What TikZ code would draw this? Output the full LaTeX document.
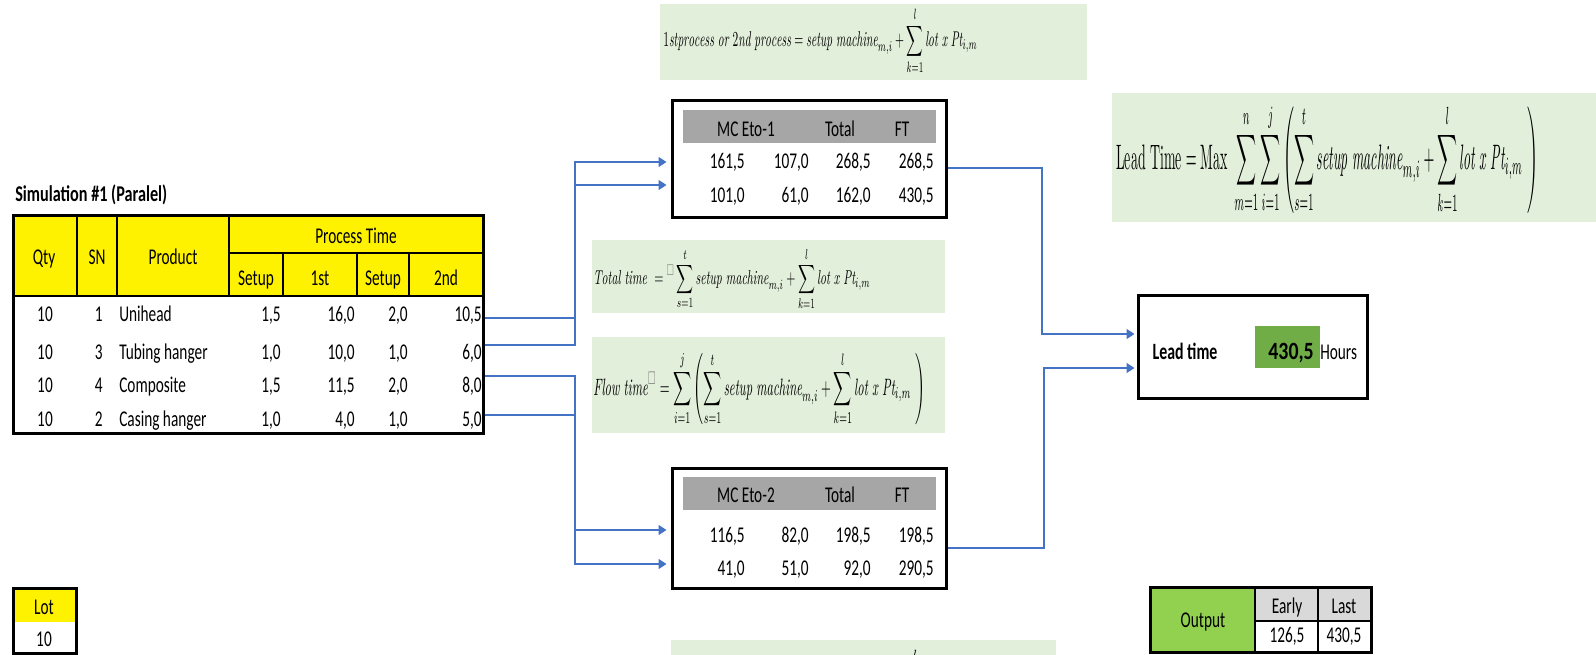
\documentclass[tikz,border=0pt]{standalone}
\usepackage{amsmath,amssymb}
\usepackage{fontspec}
\usepackage{graphicx}
\usetikzlibrary{arrows.meta,fit}
\newfontfamily\cf{Carlito}[FakeStretch=0.68]
\newfontfamily\cft{Carlito}[FakeStretch=0.72]
\newfontfamily\cfw{Carlito}[FakeStretch=0.8]
\newcommand\tf{\cf\fontsize{16.9pt}{20pt}\selectfont}
\definecolor{fgreen}{HTML}{E2EFDA}
\definecolor{cblue}{HTML}{4472C4}
\definecolor{hgray}{HTML}{A6A6A6}
\definecolor{ltgreen}{HTML}{70AD47}
\definecolor{ogreen}{HTML}{92D050}
\definecolor{ogray}{HTML}{D9D9D9}
\newcommand\SM{\mathit{setup\ machine}_{m,i}}
\newcommand\LP{\mathit{lot\ x\ Pt}_{i,m}}
\tikzset{
 tx/.style={inner sep=0pt, font=\tf},
 tr/.style={tx, anchor=base east},
 tl/.style={tx, anchor=base west},
 tc/.style={tx, anchor=base},
 border/.style={draw=black, line width=2.25pt, inner sep=0pt},
 grid/.style={draw=black, line width=1.1pt},
 conn/.style={draw=cblue, line width=1pt, -{Triangle[length=6pt,width=7.5pt]}},
 form/.style={inner sep=0pt, anchor=north west},
}
\begin{document}
\begin{tikzpicture}[x=0.75pt,y=-0.75pt]
\useasboundingbox (0,0) rectangle (1596,654);
\fill[white] (0,0) rectangle (1596,654);
\clip (0,0) rectangle (1596,654);

% ---------- formula boxes ----------
\fill[fgreen] (660,4) rectangle (1087,80);
\node[form] (f1) at (663,7) {\resizebox*{235.5pt}{50.25pt}{$\displaystyle 1\mathit{stprocess\ or\ }2\mathit{nd\ process} = \SM+\sum_{k=1}^{l}\LP$}};
\fill[fgreen] (1112,93) rectangle (1596,222);
\node[form] (f4) at (1116,103) {\resizebox*{316.5pt}{84pt}{$\displaystyle \mathrm{Lead\ Time}=\mathrm{Max}\ \sum_{m=1}^{n}\sum_{i=1}^{j}\left(\sum_{s=1}^{t}\SM+\sum_{k=1}^{l}\LP\ \right)$}};
\fill[fgreen] (592,240) rectangle (945,313);
\node[form] (f2) at (593,247) {\resizebox*{207.75pt}{47.25pt}{$\displaystyle \mathit{Total\ time}\ ={}^{\color{gray}\square}\sum_{s=1}^{t}\SM+\sum_{k=1}^{l}\LP$}};
\fill[fgreen] (592,337) rectangle (945,433);
\node[form] (f3) at (593,351) {\resizebox*{249pt}{56.25pt}{$\displaystyle \mathit{Flow\ time}^{\color{gray}\square}=\sum_{i=1}^{j}\left(\sum_{s=1}^{t}\SM+\sum_{k=1}^{l}\LP\ \right)$}};
\fill[fgreen] (671,640) rectangle (1056,660);
\node[inner sep=0pt, anchor=north, font=\fontsize{10pt}{10pt}\selectfont] (f5) at (915,650) {$l$};

% ---------- main table ----------
\node[tl, font=\cft\bfseries\fontsize{16.9pt}{20pt}\selectfont] (title) at (15,201) {Simulation \#1 (Paralel)};
\fill[yellow] (13,215) rectangle (483,296);
\draw[grid] (229,253) -- (483,253);
\foreach \x in {77,117,229} \draw[grid] (\x,215) -- (\x,296);
\foreach \x in {283,357,409} \draw[grid] (\x,253) -- (\x,296);
\draw[line width=2pt] (13,296) -- (483,296);
\node[border, fit={(13,215) (483,433)}] (tbl) {};

\node[tc] (hq) at (44,264) {Qty};
\node[tc] (hs) at (97,264) {SN};
\node[tc] (hp) at (173,264) {Product};
\node[tc] (hpt) at (356,243) {Process Time};
\node[tc] (h1) at (256,285) {Setup};
\node[tc] (h2) at (320,285) {1st};
\node[tc] (h3) at (383,285) {Setup};
\node[tc] (h4) at (446,285) {2nd};

\node[tc] (q1) at (45,321) {10};
\node[tr] (s1) at (103,321) {1};
\node[tl] (p1) at (119,321) {Unihead};
\node[tr] (a1v) at (281,321) {1,5};
\node[tr] (b1v) at (355,321) {16,0};
\node[tr] (c1v) at (408,321) {2,0};
\node[tr] (d1v) at (482,321) {10,5};

\node[tc] (q2) at (45,359) {10};
\node[tr] (s2) at (103,359) {3};
\node[tl] (p2) at (119,359) {Tubing hanger};
\node[tr] (a2v) at (281,359) {1,0};
\node[tr] (b2v) at (355,359) {10,0};
\node[tr] (c2v) at (408,359) {1,0};
\node[tr] (d2v) at (482,359) {6,0};

\node[tc] (q3) at (45,392) {10};
\node[tr] (s3) at (103,392) {4};
\node[tl] (p3) at (119,392) {Composite};
\node[tr] (a3v) at (281,392) {1,5};
\node[tr] (b3v) at (355,392) {11,5};
\node[tr] (c3v) at (408,392) {2,0};
\node[tr] (d3v) at (482,392) {8,0};

\node[tc] (q4) at (45,426) {10};
\node[tr] (s4) at (103,426) {2};
\node[tl] (p4) at (119,426) {Casing hanger};
\node[tr] (a4v) at (281,426) {1,0};
\node[tr] (b4v) at (355,426) {4,0};
\node[tr] (c4v) at (408,426) {1,0};
\node[tr] (d4v) at (482,426) {5,0};

% ---------- MC Eto-1 ----------
\fill[hgray] (683,110) rectangle (936,143);
\node[border, fit={(672,100) (946,217)}] (eto1) {};
\node[tc] at (746,136) {MC Eto-1};
\node[tc] at (840,136) {Total};
\node[tc] at (902,136) {FT};
\node[tr] at (745,168) {161,5};
\node[tr] at (809,168) {107,0};
\node[tr] at (871,168) {268,5};
\node[tr] at (934,168) {268,5};
\node[tr] at (745,202) {101,0};
\node[tr] at (809,202) {61,0};
\node[tr] at (871,202) {162,0};
\node[tr] at (934,202) {430,5};

% ---------- MC Eto-2 ----------
\fill[hgray] (683,477) rectangle (936,510);
\node[border, fit={(672,468) (946,588)}] (eto2) {};
\node[tc] at (746,502) {MC Eto-2};
\node[tc] at (840,502) {Total};
\node[tc] at (902,502) {FT};
\node[tr] at (745,542) {116,5};
\node[tr] at (809,542) {82,0};
\node[tr] at (871,542) {198,5};
\node[tr] at (934,542) {198,5};
\node[tr] at (745,575) {41,0};
\node[tr] at (809,575) {51,0};
\node[tr] at (871,575) {92,0};
\node[tr] at (934,575) {290,5};

% ---------- Lead time ----------
\fill[ltgreen] (1255,326) rectangle (1320,368);
\node[border, fit={(1138,295) (1367,398)}] (lead) {};
\node[tc, font=\cf\bfseries\fontsize{17.5pt}{20pt}\selectfont] (ltl) at (1185,359) {Lead time};
\node[tr, font=\cfw\bfseries\fontsize{18.6pt}{20pt}\selectfont] (ltv) at (1314,359) {430,5};
\node[tl] (lth) at (1320,359) {Hours};

% ---------- Lot ----------
\fill[yellow] (13,588) rectangle (76,622);
\node[border, fit={(13,588) (76,653)}] (lot) {};
\node[tc] at (44,614) {Lot};
\node[tc] at (44,646) {10};

% ---------- Output ----------
\fill[ogreen] (1150,587) rectangle (1255,652);
\fill[ogray] (1255,587) rectangle (1371,621);
\draw[grid] (1255,587) -- (1255,652);
\draw[grid] (1318,587) -- (1318,652);
\draw[grid] (1255,621) -- (1371,621);
\node[border, fit={(1150,587) (1371,652)}] (out) {};
\node[tc] at (1203,627) {Output};
\node[tc] at (1287,613) {Early};
\node[tc] at (1344,613) {Last};
\node[tc] at (1287,642) {126,5};
\node[tc] at (1344,642) {430,5};

% ---------- connectors ----------
\coordinate (r1) at (tbl.east |- 0,318);
\coordinate (r2) at (tbl.east |- 0,345);
\coordinate (r3) at (tbl.east |- 0,376);
\coordinate (r4) at (tbl.east |- 0,415);
\coordinate (e1a) at ([xshift=-3pt]eto1.west |- 0,162);
\coordinate (e1b) at ([xshift=-3pt]eto1.west |- 0,185);
\coordinate (e2a) at ([xshift=-3pt]eto2.west |- 0,530);
\coordinate (e2b) at ([xshift=-3pt]eto2.west |- 0,564);
\draw[conn] (r1) -| (575,162) -- (e1a);
\draw[conn] (r2) -| (575,185) -- (e1b);
\draw[conn] (r3) -| (575,530) -- (e2a);
\draw[conn] (r4) -| (575,564) -- (e2b);

\coordinate (o1) at (eto1.east |- 0,168);
\coordinate (o2) at (eto2.east |- 0,548);
\coordinate (la) at ([xshift=-1.5pt]lead.west |- 0,334);
\coordinate (lb) at ([xshift=-1.5pt]lead.west |- 0,368);
\draw[conn] (o1) -| (1042,334) -- (la);
\draw[conn] (o2) -| (1044,368) -- (lb);
\end{tikzpicture}
\end{document}
